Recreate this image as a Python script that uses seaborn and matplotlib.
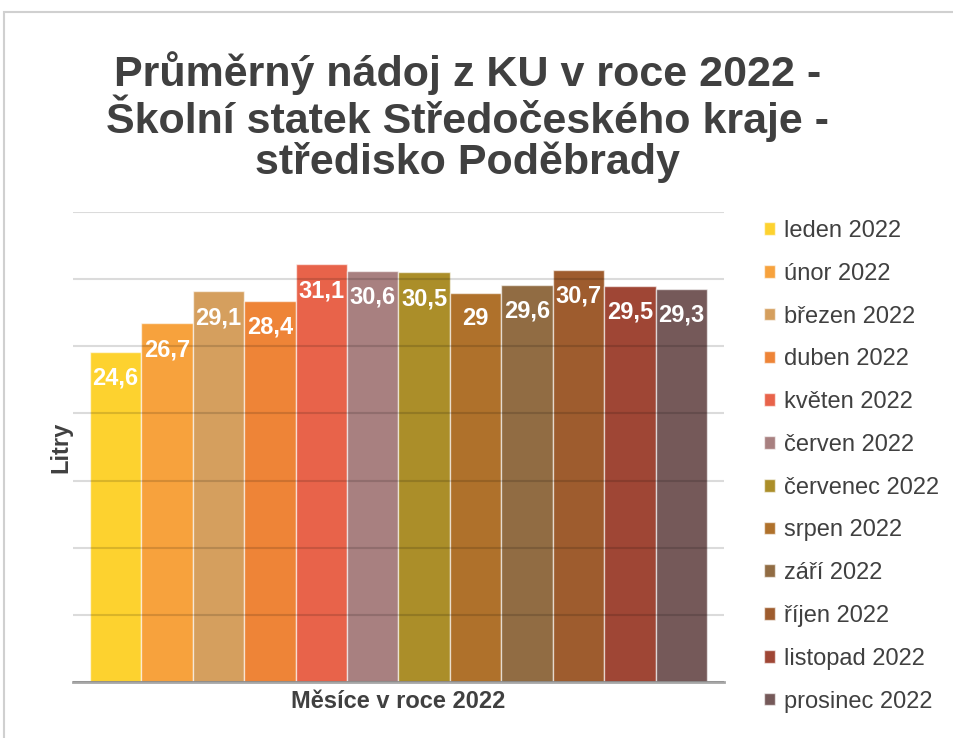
import numpy as np
import pandas as pd
import seaborn as sns
import matplotlib
matplotlib.use('Agg')
import matplotlib.pyplot as plt
from matplotlib.patches import Rectangle

# data
months = ["leden 2022", "únor 2022", "březen 2022", "duben 2022", "květen 2022",
          "červen 2022", "červenec 2022", "srpen 2022", "září 2022", "říjen 2022",
          "listopad 2022", "prosinec 2022"]
values = [24.6, 26.7, 29.1, 28.4, 31.1, 30.6, 30.5, 29.0, 29.6, 30.7, 29.5, 29.3]
value_labels = ["24,6", "26,7", "29,1", "28,4", "31,1", "30,6", "30,5", "29", "29,6",
                "30,7", "29,5", "29,3"]
colors = ["#FDD22F", "#F7A23D", "#D59F5E", "#EE8437", "#E8634A", "#A88080",
          "#AB8E29", "#AF712B", "#916C43", "#9E5C2E", "#9F4635", "#755959"]

title = "Průměrný nádoj z KU v roce 2022 -\nŠkolní statek Středočeského kraje -\nstředisko Poděbrady"
xlabel = "Měsíce v roce 2022"
ylabel = "Litry"

sns.set_style("white")
plt.rcParams['font.family'] = ['Liberation Sans', 'DejaVu Sans']
text_col = "#404040"

df = pd.DataFrame({"grp": [""] * len(months), "mesic": months, "litry": values})

fig = plt.figure(figsize=(9.54, 7.38), dpi=100)
ax = fig.add_axes([73 / 954, 1 - 682 / 738, (724 - 73) / 954, (682 - 212) / 738])

sns.barplot(data=df, x="grp", y="litry", hue="mesic", hue_order=months,
            palette=colors, saturation=1, width=0.8, gap=0, ax=ax,
            edgecolor=(1, 1, 1, 0.6), linewidth=1)

ax.set_xlim(-0.4 / 0.948, 0.4 / 0.948)
ax.set_ylim(0, 35)
ax.set_yticks(np.arange(0, 36, 5))
ax.set_yticklabels([])
ax.set_xticks([])
ax.tick_params(length=0)
ax.yaxis.grid(True, color="black", alpha=0.14, linewidth=1.5)
ax.set_axisbelow(False)
for s in ["top", "right", "left"]:
    ax.spines[s].set_visible(False)
ax.spines["bottom"].set_color("#a6a6a6")
ax.spines["bottom"].set_linewidth(2)

ax.set_xlabel(xlabel, fontsize=17, fontweight="bold", color=text_col, labelpad=6)
ax.set_ylabel(ylabel, fontsize=17, fontweight="bold", color=text_col, labelpad=-3)

for cont, lab in zip(ax.containers, value_labels):
    for bar in cont:
        ax.annotate(lab, (bar.get_x() + bar.get_width() / 2, bar.get_height()),
                    xytext=(0, -19), textcoords="offset points",
                    ha="center", va="center", color="white",
                    fontsize=17, fontweight="bold")

leg = ax.legend(loc="upper left", bbox_to_anchor=(764 / 954, 1 - 220 / 738),
                bbox_transform=fig.transFigure, frameon=False, fontsize=17,
                labelspacing=0.88, handlelength=0.45, handleheight=0.45,
                handletextpad=0.4, borderaxespad=0, borderpad=0)
for t in leg.get_texts():
    t.set_color(text_col)

fig.text(0.49, 1 - 117 / 738, title, ha="center", va="center", fontsize=31,
         fontweight="bold", color=text_col, linespacing=0.98)

fig.patches.append(Rectangle((4 / 954, -0.1), 1.2, 1 - 12 / 738 + 0.1,
                             transform=fig.transFigure, fill=False,
                             edgecolor="#d0d0d0", linewidth=1.5))

fig.savefig("out.png", dpi=100)
